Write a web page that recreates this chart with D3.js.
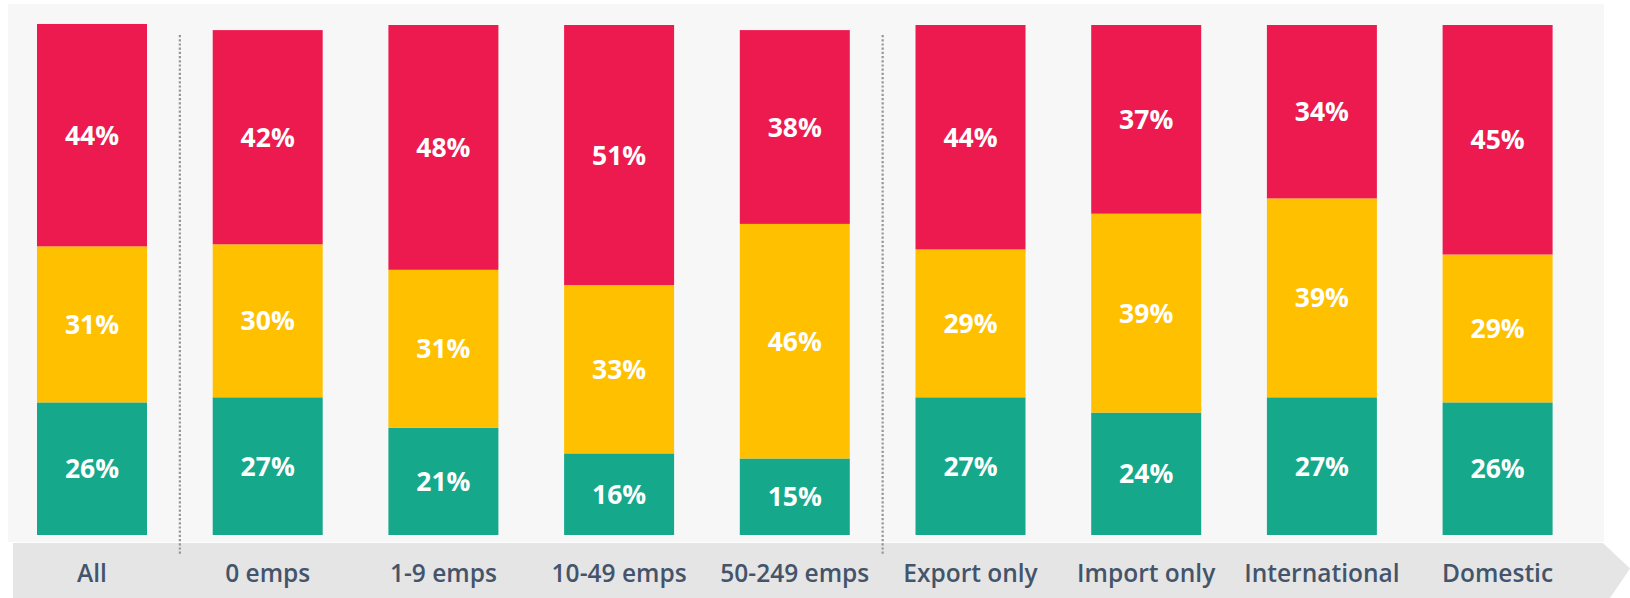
<!DOCTYPE html>
<html>
<head>
<meta charset="utf-8">
<script src="https://cdn.jsdelivr.net/npm/d3@7"></script>
<style>
  body { margin: 0; background: #ffffff; }
  svg { display: block; }
</style>
</head>
<body>
<svg id="chart" width="1630" height="598"></svg>
<script>
// categories along the bottom
const categories = ["All", "0 emps", "1-9 emps", "10-49 emps", "50-249 emps",
                    "Export only", "Import only", "International", "Domestic"];
// stacked segments, bottom to top (labels show the rounded value)
const greenVals = [26, 27, 21, 16, 15, 27, 24, 27, 26];
const amberVals = [30.6, 30, 31, 33, 46, 29, 39, 39, 29];
const redVals   = [43.6, 42, 48, 51, 38, 44, 37, 34, 45];
// dotted separators sit after these categories
const dividerAfter = ["All", "50-249 emps"];

const seriesKeys = ["green", "amber", "red"];
const colors = { green: "#16a88b", amber: "#ffc000", red: "#ec1a4f" };

const width = 1630, height = 598;
const svg = d3.select("#chart");

// build table for d3.stack
const table = categories.map(function(c, i) {
    return { cat: c, green: greenVals[i], amber: amberVals[i], red: redVals[i] };
});

const x = d3.scaleBand()
    .domain(categories)
    .range([4.15, 1585.45])
    .paddingInner(0.374)
    .paddingOuter(0.187);

const y = d3.scaleLinear()
    .domain([0, 100])
    .range([535, 25]);

// light panel behind the bars
svg.append("rect")
    .attr("x", 8).attr("y", 4)
    .attr("width", 1596).attr("height", 538)
    .attr("fill", "#f7f7f7");

// grey arrow band holding the category labels
const bandTop = 543, bandBot = 598, tipX = 1630;
svg.append("path")
    .attr("d", "M13," + bandTop + " L1603," + bandTop + " L" + tipX + "," + ((bandTop + bandBot) / 2 - 2) +
               " L1610," + bandBot + " L13," + bandBot + " Z")
    .attr("fill", "#e5e5e5");

const stack = d3.stack().keys(seriesKeys)(table);

const layers = svg.append("g").selectAll("g.layer")
    .data(stack)
    .enter()
    .append("g")
    .attr("class", "layer")
    .attr("fill", function(d) { return colors[d.key]; });

layers.selectAll("rect")
    .data(function(d) { return d; })
    .enter()
    .append("rect")
    .attr("x", function(d) { return x(d.data.cat); })
    .attr("y", function(d) { return y(d[1]); })
    .attr("width", x.bandwidth())
    .attr("height", function(d) { return y(d[0]) - y(d[1]); });

// value labels
layers.selectAll("text")
    .data(function(d) { return d; })
    .enter()
    .append("text")
    .attr("x", function(d) { return x(d.data.cat) + x.bandwidth() / 2; })
    .attr("y", function(d) { return (y(d[0]) + y(d[1])) / 2; })
    .attr("dy", "0.36em")
    .attr("text-anchor", "middle")
    .attr("fill", "#ffffff")
    .attr("font-family", "'Open Sans', sans-serif")
    .attr("font-weight", "bold")
    .attr("font-size", "26.5px")
    .text(function(d) { return Math.round(d.data[this.parentNode.__data__.key]) + "%"; });

// dotted separators
svg.append("g").selectAll("line")
    .data(dividerAfter)
    .enter()
    .append("line")
    .attr("x1", function(d) { return x(d) + x.bandwidth() + (x.step() - x.bandwidth()) / 2; })
    .attr("x2", function(d) { return x(d) + x.bandwidth() + (x.step() - x.bandwidth()) / 2; })
    .attr("y1", 35)
    .attr("y2", 555)
    .attr("stroke", "#969696")
    .attr("stroke-width", 2.2)
    .attr("stroke-dasharray", "2.2,2");

// category labels
svg.append("g").selectAll("text")
    .data(categories)
    .enter()
    .append("text")
    .attr("x", function(d) { return x(d) + x.bandwidth() / 2; })
    .attr("y", 582)
    .attr("text-anchor", "middle")
    .attr("fill", "#44546a")
    .attr("font-family", "'Open Sans', sans-serif")
    .attr("font-weight", 600)
    .attr("font-size", "24.5px")
    .text(function(d) { return d; });
</script>
</body>
</html>
